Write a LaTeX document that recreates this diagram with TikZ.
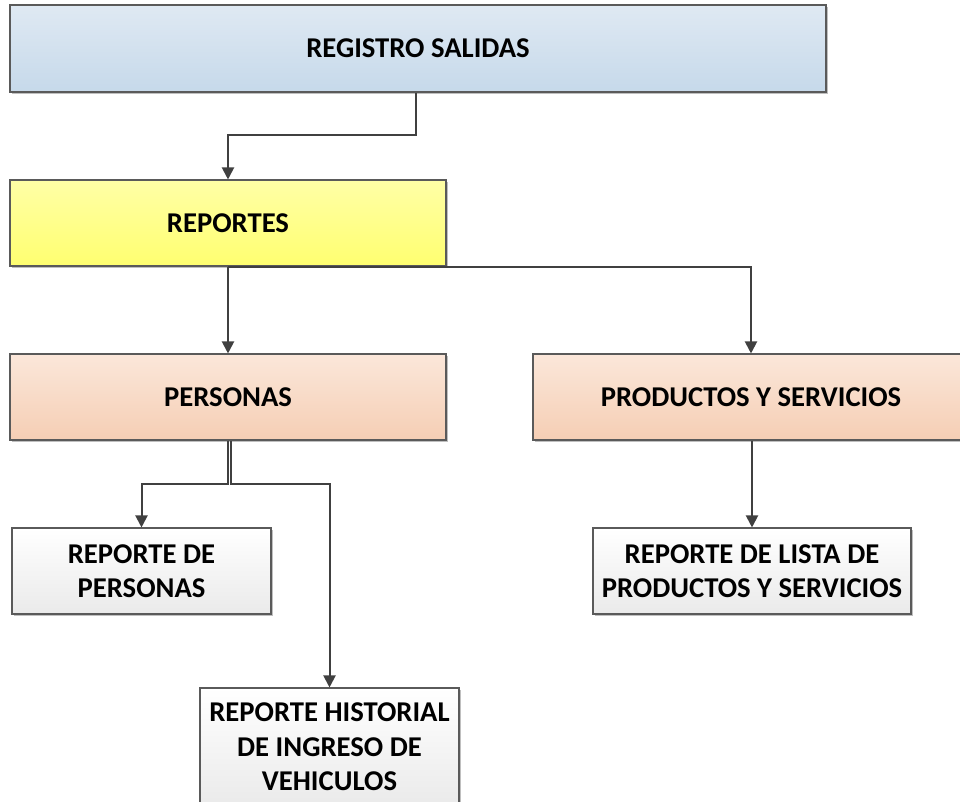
\documentclass[tikz,border=0pt]{standalone}
\usepackage{fontspec}
\setmainfont{Carlito}
\usetikzlibrary{arrows.meta,shadows}
\definecolor{linegray}{HTML}{404040}
\definecolor{edgegray}{HTML}{5A5A5A}
\begin{document}
\begin{tikzpicture}[x=0.75pt,y=-0.75pt,
  box/.style={draw=edgegray,line width=0.8pt,align=center,inner sep=0pt,
    font=\fontsize{21.5}{25.8}\selectfont\bfseries,
    drop shadow={shadow xshift=1.5pt,shadow yshift=-1.5pt,opacity=0.25,fill=black}},
  bluebox/.style={box,top color={rgb,255:red,223;green,233;blue,243},bottom color={rgb,255:red,198;green,217;blue,234}},
  yellowbox/.style={box,top color={rgb,255:red,255;green,255;blue,166},bottom color={rgb,255:red,255;green,255;blue,112}},
  peachbox/.style={box,top color={rgb,255:red,251;green,231;blue,218},bottom color={rgb,255:red,245;green,206;blue,180}},
  whitebox/.style={box,top color=white,bottom color={rgb,255:red,234;green,234;blue,234}},
  link/.style={draw=linegray,line width=1.5pt,-{Triangle[length=9pt,width=9pt]}}]
\useasboundingbox (0,0) rectangle (960,802);
\clip (0,0) rectangle (960,802);

% boxes
\node[bluebox,minimum width=612pt,minimum height=65.25pt] (reg) at (418,48.5) {REGISTRO SALIDAS};
\node[yellowbox,minimum width=327pt,minimum height=64.5pt] (rep) at (228,223) {REPORTES};
\node[peachbox,minimum width=327pt,minimum height=64.5pt] (per) at (228,397) {PERSONAS};
\node[peachbox,minimum width=327pt,minimum height=64.5pt] (pys) at (751,397) {PRODUCTOS Y SERVICIOS};
\node[whitebox,minimum width=194.25pt,minimum height=64.5pt] (rpe) at (141.5,571) {REPORTE DE\\PERSONAS};
\node[whitebox,minimum width=238.5pt,minimum height=64.5pt] (rli) at (752,571) {REPORTE DE LISTA DE\\PRODUCTOS Y SERVICIOS};
\node[whitebox,minimum width=194.25pt,minimum height=88.5pt] (rhi) at (329.5,747) {REPORTE HISTORIAL\\DE INGRESO DE\\VEHICULOS};

% elbow points
\coordinate (j1) at (416,135);
\coordinate (j2) at (228,484);
\coordinate (j3) at (231,484);

% connectors
\draw[link] (reg.south -| j1) -- (j1) -| (rep.north);
\draw[link] (rep.south) -- (per.north);
\draw[link] (rep.south) -| (pys.north);
\draw[link] (per.south -| j2) -- (j2) -| (rpe.north);
\draw[link] (per.south -| j3) -- (j3) -| (rhi.north);
\draw[link] (pys.south -| rli.north) -- (rli.north);
\end{tikzpicture}
\end{document}
